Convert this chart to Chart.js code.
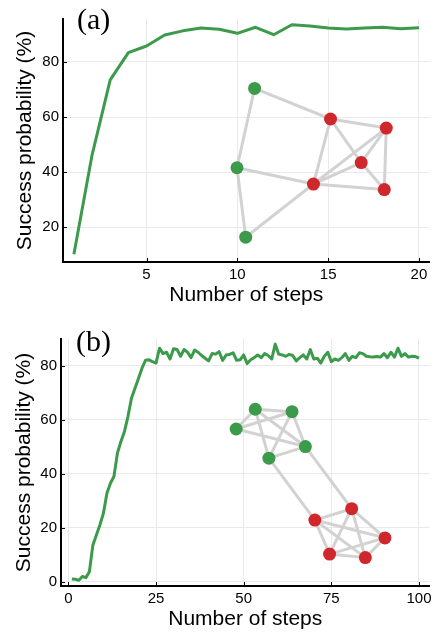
<!DOCTYPE html>
<html>
<head>
<meta charset="utf-8">
<script src="https://cdn.jsdelivr.net/npm/chart.js@4.4.0/dist/chart.umd.min.js"></script>
<style>
html,body{margin:0;padding:0;background:#fff;}
#wrap{position:relative;width:436px;height:634px;overflow:hidden;}
canvas{position:absolute;left:0;}
.panel{position:absolute;font-family:'Liberation Serif',serif;font-size:30px;line-height:1;color:#000;}
</style>
</head>
<body>
<div id="wrap">
  <canvas id="chartA" width="436" height="317" style="top:0"></canvas>
  <canvas id="chartB" width="436" height="317" style="top:317px"></canvas>
  <div class="panel" style="left:77px;top:4px">(a)</div>
  <div class="panel" style="left:76px;top:326px">(b)</div>
</div>
<script>
// ---- panel (a) data ----
const stepsA = [1,2,3,4,5,6,7,8,9,10,11,12,13,14,15,16,17,18,19,20];
const probA = [10.2,46.2,73.5,83.4,85.8,89.8,91.3,92.3,91.9,90.4,92.6,89.9,93.5,93.1,92.3,92.0,92.3,92.6,92.1,92.4];
const xTicksA = [5,10,15,20];
const yTicksA = [20,40,60,80];
// inset graph (a): node positions in plot units, group 0 = green, 1 = red
const nodeXA = [10.95, 9.98, 10.46, 15.13, 18.2, 16.82, 14.19, 18.09];
const nodeYA = [70.4, 41.6, 16.4, 59.3, 56.0, 43.5, 35.7, 33.7];
const nodeGroupA = [0,0,0,1,1,1,1,1];
const edgesA = [[0,3],[0,1],[1,2],[1,6],[2,6],[3,4],[3,6],[3,5],[5,7],[4,6],[4,5],[4,7],[6,5],[6,7]];

// ---- panel (b) data ----
const stepsB = [1,2,3,4,5,6,7,8,9,10,11,12,13,14,15,16,17,18,19,20,
  21,22,23,24,25,26,27,28,29,30,31,32,33,34,35,36,37,38,39,40,
  41,42,43,44,45,46,47,48,49,50,51,52,53,54,55,56,57,58,59,60,
  61,62,63,64,65,66,67,68,69,70,71,72,73,74,75,76,77,78,79,80,
  81,82,83,84,85,86,87,88,89,90,91,92,93,94,95,96,97,98,99,100];
const probB = [1.1,1.0,0.6,2.0,1.6,3.8,13.7,17.4,21.1,25.4,
  32.8,36.5,39.0,47.7,52.0,55.7,61.2,68.0,71.7,75.3,
  79.1,82.0,82.2,81.5,81.0,86.5,84.5,85.0,82.5,86.3,
  86.0,83.5,86.0,85.0,83.0,85.8,85.0,83.8,82.8,81.8,
  84.5,84.3,85.2,82.0,84.0,84.2,84.8,82.0,82.2,84.0,
  80.8,82.2,83.0,84.0,83.0,84.5,83.8,82.5,88.0,84.3,
  84.0,83.5,84.2,83.8,81.8,83.0,84.0,82.5,86.0,82.5,
  82.8,81.0,83.5,85.0,81.5,82.5,82.0,83.0,84.5,82.0,
  83.5,83.0,84.8,84.5,83.5,83.3,83.2,83.4,83.2,84.5,
  83.0,85.0,83.2,86.5,83.5,84.5,83.2,83.5,83.4,82.8];
const xTicksB = [0,25,50,75,100];
const yTicksB = [0,20,40,60,80];
const nodeXB = [53.3, 63.8, 47.85, 67.6, 57.2, 80.8, 70.3, 90.3, 74.5, 84.7];
const nodeYB = [63.9, 63.0, 56.6, 50.1, 45.8, 27.1, 22.9, 16.3, 10.3, 9.0];
const nodeGroupB = [0,0,0,0,0,1,1,1,1,1];
const edgesB = [[0,1],[0,2],[0,3],[0,4],[1,2],[1,3],[1,4],[2,3],[3,4],
  [4,6],[3,5],
  [5,6],[5,7],[5,8],[5,9],[6,7],[6,8],[6,9],[7,8],[7,9],[8,9]];

const GREEN = '#3c9a4b';
const RED = '#d0272d';
const EDGE = '#d2d2d2';
const GRID = '#e9e9e9';

Chart.defaults.font.family = "'Liberation Sans', Arial, sans-serif";
Chart.defaults.color = '#000';

// small inward tick marks on both axes
const innerTicks = {
  id: 'innerTicks',
  afterDatasetsDraw(chart){
    const {ctx, chartArea:a, scales:{x, y}} = chart;
    ctx.save();
    ctx.strokeStyle = '#000';
    ctx.lineWidth = 1;
    ctx.beginPath();
    x.ticks.forEach(t=>{
      const px = Math.round(x.getPixelForValue(t.value)) + 0.5;
      ctx.moveTo(px, a.bottom); ctx.lineTo(px, a.bottom - 4);
    });
    y.ticks.forEach(t=>{
      const py = Math.round(y.getPixelForValue(t.value)) + 0.5;
      ctx.moveTo(a.left, py); ctx.lineTo(a.left + 4, py);
    });
    ctx.stroke();
    ctx.restore();
  }
};

function buildPanel(id, steps, probs, nodeX, nodeY, groups, edges, xr, yr, xt, yt, g){
  const nodes = nodeX.map((x,i)=>({x, y: nodeY[i]}));
  const nodeColors = groups.map(k=> k===0 ? GREEN : RED);
  const edgeData = [];
  for(const [i,j] of edges){
    edgeData.push(nodes[i], nodes[j], {x:null, y:null});
  }
  const curve = steps.map((s,i)=>({x:s, y:probs[i]}));

  return new Chart(document.getElementById(id), {
    type: 'line',
    data: { datasets: [
      {data: nodes, showLine:false, pointRadius:6.5, pointBackgroundColor:nodeColors, pointBorderWidth:0, order:0},
      {data: edgeData, borderColor:EDGE, borderWidth:3, pointRadius:0, spanGaps:false, order:1},
      {data: curve, borderColor:GREEN, borderWidth:3, pointRadius:0, tension:0, borderJoinStyle:'round', order:2}
    ]},
    options: {
      responsive:false, animation:false, devicePixelRatio:1,
      layout:{padding:{top:g.top, right:6, left:0, bottom:0}},
      plugins:{legend:{display:false}, tooltip:{enabled:false}},
      scales:{
        x:{
          type:'linear', min:xr[0], max:xr[1],
          afterBuildTicks: s=>{ s.ticks = xt.map(v=>({value:v})); },
          afterFit: s=>{ s.height = g.xh; },
          grid:{color:GRID, drawTicks:false},
          border:{color:'#000', width:2},
          ticks:{padding:g.xtick, font:{size:15}, color:'#000', maxRotation:0, autoSkip:false},
          title:{display:true, text:'Number of steps', font:{size:21}, color:'#000', padding:{top:0, bottom:g.xtp}}
        },
        y:{
          type:'linear', min:yr[0], max:yr[1],
          afterBuildTicks: s=>{ s.ticks = yt.map(v=>({value:v})); },
          afterFit: s=>{ s.width = g.yw; },
          grid:{color:GRID, drawTicks:false},
          border:{color:'#000', width:2},
          ticks:{padding:4, font:{size:15}, color:'#000', autoSkip:false},
          title:{display:true, text:'Success probability (%)', font:{size:21}, color:'#000', padding:{top:g.ytp, bottom:0}}
        }
      }
    },
    plugins:[innerTicks]
  });
}

buildPanel('chartA', stepsA, probA, nodeXA, nodeYA, nodeGroupA, edgesA,
  [0.4, 20.58], [7.4, 95.6], xTicksA, yTicksA,
  {top:19, xh:55, yw:63, xtick:4, xtp:9, ytp:12.4});
buildPanel('chartB', stepsB, probB, nodeXB, nodeYB, nodeGroupB, edgesB,
  [-2.1, 103], [-1.5, 89.9], xTicksB, yTicksB,
  {top:22, xh:48, yw:61, xtick:4, xtp:2.4, ytp:11.4});
</script>
</body>
</html>
